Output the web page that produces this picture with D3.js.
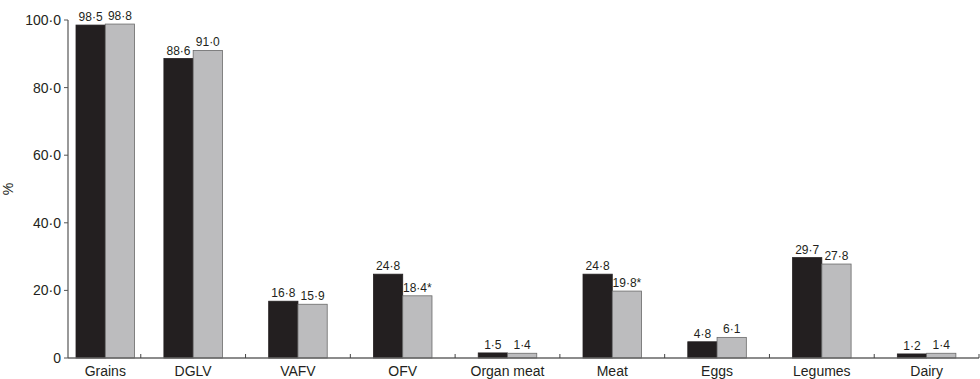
<!DOCTYPE html>
<html>
<head>
<meta charset="utf-8">
<script src="https://cdn.jsdelivr.net/npm/d3@7"></script>
<style>
  body { margin: 0; background: #fff; }
  text { font-family: "Liberation Sans", Arial, sans-serif; fill: #231f20; }
</style>
</head>
<body>
<div id="chartContainer"></div>
<script>
const width = 980;
const height = 379;
const marginLeft = 68;
const marginRight = 1;
const marginTop = 20;
const marginBottom = 21;

const categories = ["Grains", "DGLV", "VAFV", "OFV", "Organ meat", "Meat", "Eggs", "Legumes", "Dairy"];
const series = ["first", "second"];
const valuesFirst = [98.5, 88.6, 16.8, 24.8, 1.5, 24.8, 4.8, 29.7, 1.2];
const valuesSecond = [98.8, 91.0, 15.9, 18.4, 1.4, 19.8, 6.1, 27.8, 1.4];
const markSecond = ["", "", "", "*", "", "*", "", "", ""];
const yTicks = [0, 20, 40, 60, 80, 100];

const colors = { first: "#231f20", second: "#bcbcbe" };
const strokes = { first: "#231f20", second: "#6a6a6a" };

// numbers are printed with a middle dot as decimal mark
const fmt = v => v.toFixed(1).replace(".", "\u00b7");

const data = categories.map((c, i) => ({
    category: c,
    bars: [
        { key: "first", value: valuesFirst[i], label: fmt(valuesFirst[i]) },
        { key: "second", value: valuesSecond[i], label: fmt(valuesSecond[i]) + markSecond[i] }
    ]
}));

const svg = d3.select("#chartContainer")
    .append("svg")
    .attr("width", width)
    .attr("height", height);

const x = d3.scaleBand()
    .domain(categories)
    .range([36, width - marginRight])
    .padding(0);

const xs = d3.scaleBand()
    .domain(series)
    .range([0, x.bandwidth()])
    .paddingInner(0)
    .paddingOuter(0.79);

const y = d3.scaleLinear()
    .domain([0, 100])
    .range([height - marginBottom, marginTop]);

// keep the first group clear of the y axis
function groupX(c) {
    const left = x(c) + xs(series[0]);
    return x(c) + Math.max(0, marginLeft + 8 - left);
}

const groups = svg.append("g")
    .selectAll("g")
    .data(data)
    .join("g")
    .attr("transform", d => `translate(${groupX(d.category)},0)`);

groups.selectAll("rect")
    .data(d => d.bars)
    .join("rect")
    .attr("x", d => xs(d.key))
    .attr("y", d => y(d.value))
    .attr("width", xs.bandwidth())
    .attr("height", d => y(0) - y(d.value))
    .attr("fill", d => colors[d.key])
    .attr("stroke", d => strokes[d.key])
    .attr("stroke-width", 0.8);

groups.selectAll("text")
    .data(d => d.bars)
    .join("text")
    .attr("x", d => xs(d.key) + xs.bandwidth() / 2)
    .attr("y", d => y(d.value) - 4)
    .attr("text-anchor", "middle")
    .style("font-size", "12px")
    .text(d => d.label);

// x axis
const xAxis = svg.append("g")
    .attr("transform", `translate(0,${y(0)})`);

xAxis.append("line")
    .attr("x1", marginLeft)
    .attr("x2", width - marginRight)
    .attr("stroke", "#666")
    .attr("stroke-width", 1.5);

xAxis.selectAll(".tick")
    .data(categories)
    .join("line")
    .attr("x1", d => x(d) + x.step())
    .attr("x2", d => x(d) + x.step())
    .attr("y1", 0)
    .attr("y2", -4)
    .attr("stroke", "#444")
    .attr("stroke-width", 1);

xAxis.selectAll("text")
    .data(categories)
    .join("text")
    .attr("x", d => groupX(d) + x.bandwidth() / 2)
    .attr("y", 18)
    .attr("text-anchor", "middle")
    .style("font-size", "14px")
    .text(d => d);

// y axis
const yAxis = svg.append("g")
    .attr("transform", `translate(${marginLeft},0)`);

yAxis.append("line")
    .attr("y1", y(0))
    .attr("y2", y(100))
    .attr("stroke", "#555")
    .attr("stroke-width", 1.2);

yAxis.selectAll("line.tick")
    .data(yTicks)
    .join("line")
    .attr("class", "tick")
    .attr("x1", -4)
    .attr("x2", 0)
    .attr("y1", d => y(d))
    .attr("y2", d => y(d))
    .attr("stroke", "#555");

yAxis.selectAll("text")
    .data(yTicks)
    .join("text")
    .attr("x", -7)
    .attr("y", d => y(d))
    .attr("dy", "0.35em")
    .attr("text-anchor", "end")
    .style("font-size", "14px")
    .text(d => d === 0 ? "0" : fmt(d));

svg.append("text")
    .attr("transform", `translate(13,${(y(0) + y(100)) / 2}) rotate(-90)`)
    .attr("text-anchor", "middle")
    .style("font-size", "14px")
    .text("%");
</script>
</body>
</html>
